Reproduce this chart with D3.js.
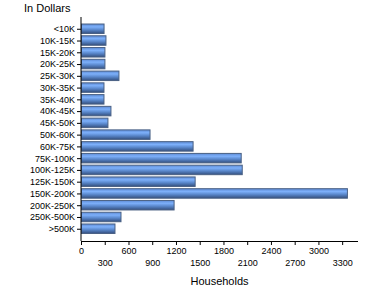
<!DOCTYPE html>
<html>
<head>
<meta charset="utf-8">
<script src="https://cdn.jsdelivr.net/npm/d3@7"></script>
<style>
  body { margin: 0; background: #fff; }
  text { font-family: "Liberation Sans", Arial, sans-serif; fill: #000; }
</style>
</head>
<body>
<div id="wrapper"></div>
<script>
// data
const categories = ["<10K", "10K-15K", "15K-20K", "20K-25K", "25K-30K", "30K-35K", "35K-40K",
  "40K-45K", "45K-50K", "50K-60K", "60K-75K", "75K-100K", "100K-125K", "125K-150K",
  "150K-200K", "200K-250K", "250K-500K", ">500K"]
const households = [285, 309, 296, 296, 473, 284, 284, 372, 334, 866, 1410, 2018, 2031, 1436,
  3360, 1170, 499, 423]
const xTicks = [0, 300, 600, 900, 1200, 1500, 1800, 2100, 2400, 2700, 3000, 3300]

const width = 370
const height = 300
const margin = { top: 17, left: 81, right: 12, bottom: 59 }

const svg = d3.select("#wrapper")
  .append("svg")
    .attr("width", width)
    .attr("height", height)

const defs = svg.append("defs")
const grad = defs.append("linearGradient")
    .attr("id", "barGrad")
    .attr("x1", 0).attr("y1", 0).attr("x2", 0).attr("y2", 1)
grad.append("stop").attr("offset", "0%").attr("stop-color", "#5d8ad4")
grad.append("stop").attr("offset", "30%").attr("stop-color", "#7db0fa")
grad.append("stop").attr("offset", "60%").attr("stop-color", "#5a88cc")
grad.append("stop").attr("offset", "100%").attr("stop-color", "#344f7e")

// scales
const x = d3.scaleLinear()
  .domain([0, 3500])
  .range([margin.left, width - margin.right])

const y = d3.scalePoint()
  .domain(categories)
  .range([margin.top, height - margin.bottom - 0.5])
  .padding(1)

const barH = 9.5

// bars
svg.append("g")
  .selectAll("rect")
  .data(categories)
  .join("rect")
    .attr("x", x(0) + 0.5)
    .attr("y", d => y(d) - barH / 2)
    .attr("width", (d, i) => x(households[i]) - x(0))
    .attr("height", barH)
    .attr("fill", "url(#barGrad)")
    .attr("stroke", "#4a6184")
    .attr("stroke-width", 1)

// y axis
const yAxis = svg.append("g")
  .attr("transform", `translate(${x(0)},0)`)
  .call(d3.axisLeft(y).tickSizeInner(4).tickSizeOuter(0).tickPadding(2))
yAxis.select(".domain").remove()
yAxis.append("line")
  .attr("x1", 0).attr("x2", 0)
  .attr("y1", margin.top).attr("y2", height - margin.bottom)
  .attr("stroke", "#000")
yAxis.selectAll(".tick line").attr("stroke", "#000")
yAxis.selectAll("text")
  .style("font-size", "9px")
  .attr("fill", "#000")

// x axis
const xAxis = svg.append("g")
  .attr("transform", `translate(0,${height - margin.bottom})`)
  .call(d3.axisBottom(x)
    .tickValues(xTicks)
    .tickFormat(d3.format("d"))
    .tickSizeInner(4).tickSizeOuter(0).tickPadding(3))
xAxis.select(".domain")
  .attr("d", `M${x(0)},0.5H${width - margin.right}`)
  .attr("stroke", "#000")
xAxis.selectAll(".tick line").attr("stroke", "#000")
xAxis.selectAll("text")
  .style("font-size", "9px")
  .attr("fill", "#000")
  .attr("dy", (d, i) => i % 2 === 0 ? "0.71em" : "2.05em")

// titles
svg.append("text")
  .attr("x", (x(0) + width - margin.right) / 2)
  .attr("y", 285)
  .attr("text-anchor", "middle")
  .style("font-size", "11px")
  .text("Households")

svg.append("text")
  .attr("x", 24)
  .attr("y", 12)
  .style("font-size", "11px")
  .text("In Dollars")
</script>
</body>
</html>
